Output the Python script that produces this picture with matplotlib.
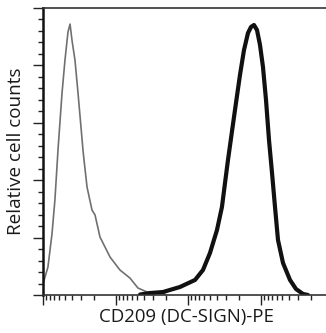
import matplotlib
matplotlib.use('Agg')
from matplotlib import pyplot as plt
from matplotlib.ticker import FixedLocator, NullFormatter
import numpy as np

# isotype control (thin grey) - fluorescence intensity / relative counts
ctrl_x = [1.00, 1.17, 1.33, 1.46, 1.61, 1.83, 2.01, 2.21, 2.36, 2.51, 2.76, 3.04,
          3.56, 3.68, 4.05, 4.74, 5.22, 6.11, 8.40, 11.5, 15.8, 20.4, 27.2, 37.4, 48.2]
ctrl_y = [9.6, 24.4, 53.1, 82.8, 126.3, 176, 204.7, 229, 236, 222, 204.7, 176,
          126.3, 117.6, 94, 74, 69.7, 50.5, 33.1, 21.8, 14.8, 6.1, 2.6, 1.7, 0.9]

# CD209 stained sample (thick black)
cd209_x = [21.8, 29.9, 45.2, 77.6, 125, 161, 201, 251, 294, 324, 356, 405, 459,
           521, 592, 672, 740, 813, 895, 984, 1082, 1191, 1310, 1442, 1585,
           1743, 2044, 2552, 3090, 3855, 4520]
cd209_y = [0.4, 1.7, 2.6, 7.0, 13.1, 21.8, 36.6, 56.6, 76.7, 97.6, 117.6, 142.9, 167.3,
           191.6, 213.4, 228.2, 233.5, 235.2, 230.8, 217.8, 198.6, 169.9, 135, 106.3, 76.7,
           47.9, 27.9, 13.1, 5.2, 0.9, 0]

fig = plt.figure(figsize=(3.26, 3.33), dpi=100)
ax = fig.add_axes([43/326, 1 - 295/333, 1 - 43/326, (295 - 8)/333])

ax.plot(ctrl_x, ctrl_y, color='#707070', lw=1.2, solid_joinstyle='round')
ax.plot(cd209_x, cd209_y, color='#111111', lw=3.0, solid_joinstyle='round',
        solid_capstyle='round')

ax.set_xscale('log')
ax.set_xlim(1, 10 ** ((326 - 43) / 72.5))
ax.set_ylim(0, 250)

# odd minor spacing: dense just after each decade
minors = [10 ** (d + 1) / k for d in range(4) for k in range(2, 10)]
ax.xaxis.set_major_locator(FixedLocator([1, 10, 100, 1000]))
ax.xaxis.set_minor_locator(FixedLocator(minors))
ax.yaxis.set_major_locator(FixedLocator(np.arange(0, 251, 50)))
ax.yaxis.set_minor_locator(FixedLocator(np.arange(0, 251, 10)))
ax.xaxis.set_major_formatter(NullFormatter())
ax.xaxis.set_minor_formatter(NullFormatter())
ax.yaxis.set_major_formatter(NullFormatter())

ax.tick_params(axis='both', which='major', direction='out', length=7.2, width=1.0,
               color='#222222')
ax.tick_params(axis='both', which='minor', direction='out', length=3.4, width=1.0,
               color='#222222')
ax.tick_params(axis='x', which='major', length=7.5)

ax.spines['right'].set_visible(False)
ax.spines['left'].set_linewidth(1.8)
ax.spines['left'].set_color('#111111')
ax.spines['top'].set_linewidth(1.2)
ax.spines['top'].set_color('#333333')
ax.spines['bottom'].set_linewidth(1.2)
ax.spines['bottom'].set_color('#333333')

fig.text(186/326, 1 - 317/333, 'CD209 (DC-SIGN)-PE', family='Open Sans',
         fontsize=13.4, color='#1a1a1a', ha='center', va='center')
fig.text(16.5/326, 1 - 151/333, 'Relative cell counts', family='Open Sans',
         fontsize=13.6, color='#1a1a1a', ha='center', va='center', rotation=90)

fig.savefig('out.png', dpi=100)
